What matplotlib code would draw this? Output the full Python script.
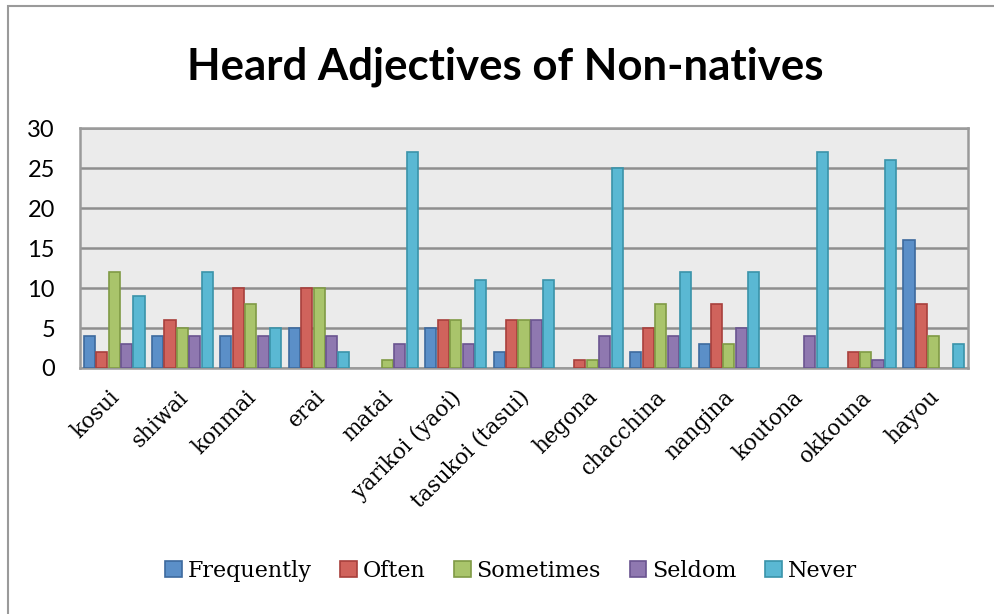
import matplotlib
matplotlib.use("Agg")
import matplotlib.pyplot as plt
from matplotlib.patches import Rectangle
import numpy as np

categories = ["kosui", "shiwai", "konmai", "erai", "matai", "yarikoi (yaoi)",
              "tasukoi (tasui)", "hegona", "chacchina", "nangina", "koutona",
              "okkouna", "hayou"]
frequently = [4, 4, 4, 5, 0, 5, 2, 0, 2, 3, 0, 0, 16]
often      = [2, 6, 10, 10, 0, 6, 6, 1, 5, 8, 0, 2, 8]
sometimes  = [12, 5, 8, 10, 1, 6, 6, 1, 8, 3, 0, 2, 4]
seldom     = [3, 4, 4, 4, 3, 3, 6, 4, 4, 5, 4, 1, 0]
never      = [9, 12, 5, 2, 27, 11, 11, 25, 12, 12, 27, 26, 3]
series_names = ["Frequently", "Often", "Sometimes", "Seldom", "Never"]
y_ticks = [0, 5, 10, 15, 20, 25, 30]

fills = ["#5B8FC8", "#D0635C", "#A9C46B", "#8F78B0", "#5AB8D3"]
edges = ["#3D6A9E", "#A8403C", "#7F9A45", "#6A5490", "#3A93AA"]

W, H = 994, 614
fig = plt.figure(figsize=(W / 100, H / 100), dpi=100)
fig.patch.set_facecolor("white")

# outer chart frame
fig.add_artist(Rectangle((8 / W, -0.05), 1.2, 1 - 6 / H + 0.05,
                         transform=fig.transFigure, fill=False,
                         edgecolor="#9A9A9A", linewidth=1.5))

left, right, top, bottom = 80, 968, 128, 368
ax = fig.add_axes([left / W, 1 - bottom / H, (right - left) / W, (bottom - top) / H])
ax.set_facecolor("#EBEBEB")

x = np.arange(len(categories))
pitch = 0.182
width = 0.162
data = [frequently, often, sometimes, seldom, never]
handles = []
for i, (vals, name) in enumerate(zip(data, series_names)):
    v = np.asarray(vals, dtype=float)
    keep = v > 0  # zero counts leave an empty slot
    h = ax.bar((x + (i - 2) * pitch)[keep], v[keep], width=width, color=fills[i],
               edgecolor=edges[i], linewidth=1.2, label=name, zorder=3)
    handles.append(h)

ax.set_xlim(-0.5, len(categories) - 0.5)
ax.set_ylim(0, 30)
ax.set_yticks(y_ticks)
ax.set_yticklabels([str(t) for t in y_ticks], fontsize=17, family="Lato")
ax.yaxis.grid(True, color="#8E8E8E", linewidth=1.8, zorder=1)
ax.set_axisbelow(True)
for s in ax.spines.values():
    s.set_color("#9A9A9A")
    s.set_linewidth(1.8)
ax.tick_params(axis="y", length=0, pad=18)
ax.tick_params(axis="x", length=0, pad=13)
ax.set_xticks(x - 0.08)
ax.set_xticklabels(categories, rotation=45, ha="right", va="top",
                   rotation_mode="anchor", fontsize=15.5, family="DejaVu Serif")

fig.text(505 / W, 1 - 67 / H, "Heard Adjectives of Non-natives",
         ha="center", va="center", fontsize=31.5, fontweight="bold", family="Lato")

fig.legend(handles=handles, labels=series_names, loc="center",
           bbox_to_anchor=(511 / W, 1 - 571 / H), ncol=5, frameon=False,
           prop={"family": "DejaVu Serif", "size": 16},
           handlelength=0.75, handleheight=0.75, handletextpad=0.25,
           columnspacing=1.3)

fig.savefig("out.png", dpi=100)
